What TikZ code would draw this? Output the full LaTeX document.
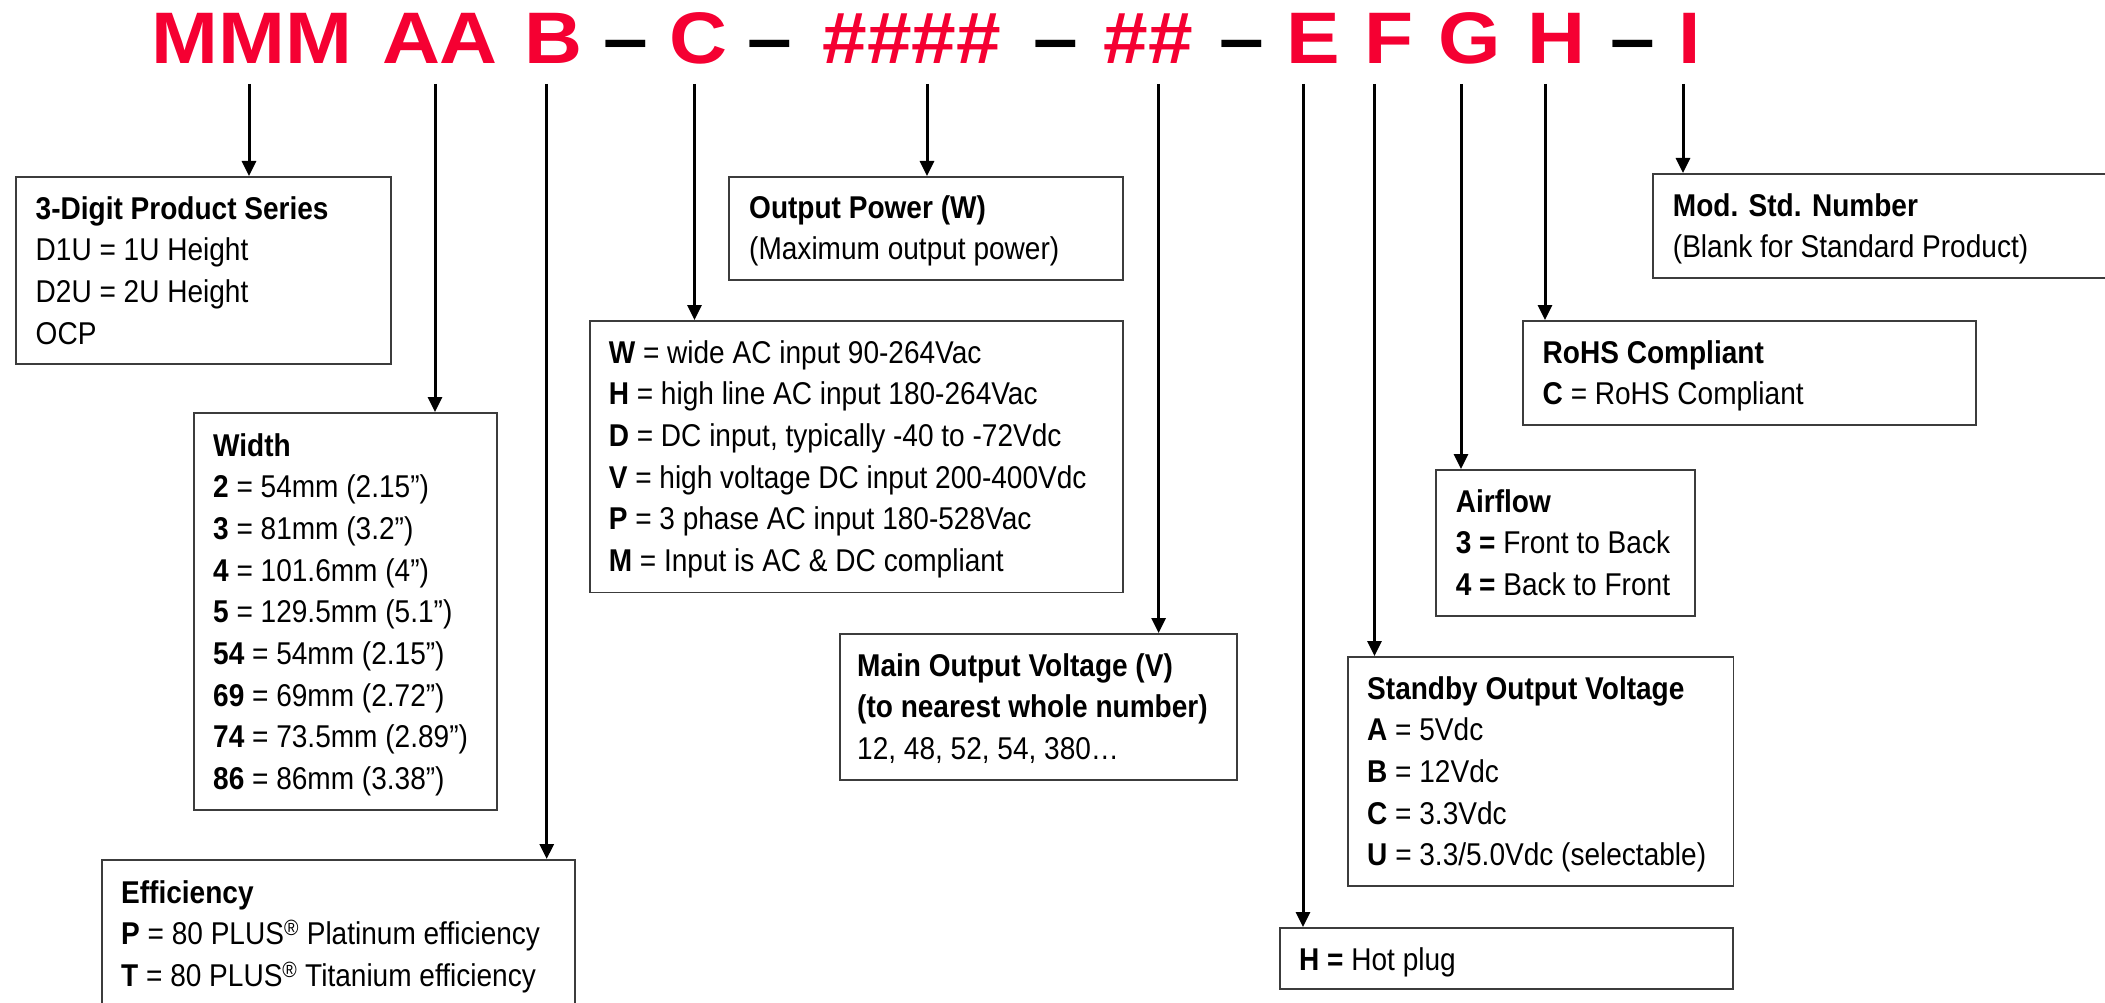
\documentclass[tikz,border=0pt]{standalone}
\usepackage{fontspec}
\setmainfont{Liberation Sans}[FakeStretch=0.89]
\newfontfamily\hdrfont{Liberation Sans}[FakeStretch=1.1]
\usetikzlibrary{arrows.meta,calc}
\definecolor{codered}{RGB}{245,0,50}
\definecolor{boxline}{RGB}{60,60,60}
\begin{document}
\begin{tikzpicture}[x=1pt,y=-1pt,
  hdr/.style={font=\hdrfont\bfseries\fontsize{73}{80}\selectfont, text=codered, inner sep=0pt, anchor=base},
  hdrdash/.style={hdr, text=black},
  infobox/.style={draw=boxline, line width=1.6pt, anchor=north west, inner sep=0pt, fill=white},
  info/.style={font=\fontsize{31.5}{41.7}\selectfont, align=left, anchor=base west, inner sep=0pt},
  conn/.style={line width=3pt, -{Triangle[width=14pt,length=15pt]}},
]
\fill[white] (0,0) rectangle (2105,1003);
\useasboundingbox (0,0) rectangle (2105,1003);

% header code
\node[hdr] (hM) at (252,64) {MMM};
\node[hdr] (hA) at (440,64) {AA};
\node[hdr] (hB) at (553,64) {B};
\node[hdrdash] (d1) at (625.5,64) {–};
\node[hdr] (hC) at (698.5,64) {C};
\node[hdrdash] (d2) at (770,64) {–};
\node[hdr] (hP) at (912,64) {\#\#\#\#};
\node[hdrdash] (d3) at (1056,64) {–};
\node[hdr] (hV) at (1148,64) {\#\#};
\node[hdrdash] (d4) at (1241.5,64) {–};
\node[hdr] (hE) at (1313.5,64) {E};
\node[hdr] (hF) at (1388.6,64) {F};
\node[hdr] (hG) at (1469.7,64) {G};
\node[hdr] (hH) at (1556.8,64) {H};
\node[hdrdash] (d5) at (1632.5,64) {–};
\node[hdr] (hI) at (1690,64) {I};

% boxes (text nodes anchored at the baseline of their last line)
\node[infobox, minimum width=375pt, minimum height=187pt] (series) at (15,176) {};
\node[info] (series-t) at (35.5,344.1) {\textbf{3-Digit Product Series}\\D1U = 1U Height\\D2U = 2U Height\\OCP};

\node[infobox, minimum width=303pt, minimum height=397pt] (width) at (193,412) {};
\node[info] (width-t) at (213,789.6) {\textbf{Width}\\\textbf{2} = 54mm (2.15”)\\\textbf{3} = 81mm (3.2”)\\\textbf{4} = 101.6mm (4”)\\\textbf{5} = 129.5mm (5.1”)\\\textbf{54} = 54mm (2.15”)\\\textbf{69} = 69mm (2.72”)\\\textbf{74} = 73.5mm (2.89”)\\\textbf{86} = 86mm (3.38”)};

\node[infobox, minimum width=473pt, minimum height=170pt] (eff) at (101,859) {};
\node[info] (eff-t) at (121,986.4) {\textbf{Efficiency}\\\textbf{P} = 80 PLUS\textsuperscript{®} Platinum efficiency\\\textbf{T} = 80 PLUS\textsuperscript{®} Titanium efficiency};

\node[infobox, minimum width=394pt, minimum height=103pt] (power) at (728,176) {};
\node[info] (power-t) at (749,259.7) {\textbf{Output Power (W)}\\(Maximum output power)};

\node[infobox, minimum width=533pt, minimum height=271.5pt] (input) at (589,320) {};
\node[info] (input-t) at (608.6,571.5) {\textbf{W} = wide AC input 90-264Vac\\\textbf{H} = high line AC input 180-264Vac\\\textbf{D} = DC input, typically -40 to -72Vdc\\\textbf{V} = high voltage DC input 200-400Vdc\\\textbf{P} = 3 phase AC input 180-528Vac\\\textbf{M} = Input is AC \& DC compliant};

\node[infobox, minimum width=397pt, minimum height=146pt] (mainv) at (839,633) {};
\node[info] (mainv-t) at (857,759.4) {\textbf{Main Output Voltage (V)}\\\textbf{(to nearest whole number)}\\12, 48, 52, 54, 380…};

\node[infobox, minimum width=385.5pt, minimum height=229pt] (stby) at (1347,656) {};
\node[info] (stby-t) at (1367,865.8) {\textbf{Standby Output Voltage}\\\textbf{A} = 5Vdc\\\textbf{B} = 12Vdc\\\textbf{C} = 3.3Vdc\\\textbf{U} = 3.3/5.0Vdc (selectable)};

\node[infobox, minimum width=453pt, minimum height=61pt] (hot) at (1279,927) {};
\node[info] (hot-t) at (1299,970) {\textbf{H =} Hot plug};

\node[infobox, minimum width=259pt, minimum height=146pt] (air) at (1435,469) {};
\node[info] (air-t) at (1455.6,595.4) {\textbf{Airflow}\\\textbf{3 =} Front to Back\\\textbf{4 =} Back to Front};

\node[infobox, minimum width=453pt, minimum height=104pt] (rohs) at (1522,320) {};
\node[info] (rohs-t) at (1542.5,404.7) {\textbf{RoHS Compliant}\\\textbf{C} = RoHS Compliant};

\node[infobox, minimum width=480pt, minimum height=104pt] (mod) at (1652,173) {};
\node[info] (mod-t) at (1672.7,257.7) {\textbf{Mod. Std. Number}\\(Blank for Standard Product)};

% connectors
\coordinate (cM) at (249,84);
\coordinate (cA) at (435,84);
\coordinate (cB) at (546.7,84);
\coordinate (cC) at (694.5,84);
\coordinate (cP) at (927,84);
\coordinate (cV) at (1158.6,84);
\coordinate (cE) at (1303,84);
\coordinate (cF) at (1374.5,84);
\coordinate (cG) at (1461,84);
\coordinate (cH) at (1545,84);
\coordinate (cI) at (1683,84);
\draw[conn] (cM) -- (cM |- series.north);
\draw[conn] (cA) -- (cA |- width.north);
\draw[conn] (cB) -- (cB |- eff.north);
\draw[conn] (cC) -- (cC |- input.north);
\draw[conn] (cP) -- (cP |- power.north);
\draw[conn] (cV) -- (cV |- mainv.north);
\draw[conn] (cE) -- (cE |- hot.north);
\draw[conn] (cF) -- (cF |- stby.north);
\draw[conn] (cG) -- (cG |- air.north);
\draw[conn] (cH) -- (cH |- rohs.north);
\draw[conn] (cI) -- (cI |- mod.north);
\end{tikzpicture}
\end{document}
